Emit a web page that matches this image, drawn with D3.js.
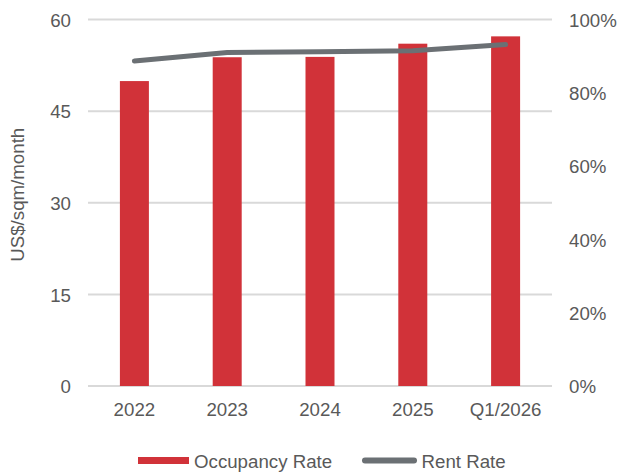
<!DOCTYPE html>
<html>
<head>
<meta charset="utf-8">
<script src="https://cdn.jsdelivr.net/npm/d3@7"></script>
<style>
  html, body { margin: 0; padding: 0; background: #ffffff; }
  svg { display: block; }
  text { font-family: "Liberation Sans", Arial, Helvetica, sans-serif; fill: #595959; }
</style>
</head>
<body>
<svg id="chart" width="618" height="473"></svg>
<script>
// Periods on the horizontal axis
const periods = ["2022", "2023", "2024", "2025", "Q1/2026"];
// Occupancy rate (%), drawn as bars against the right axis
const occupancy = [83.2, 89.7, 89.8, 93.4, 95.4];
// Rent rate (US$/sqm/month), drawn as a line against the left axis
const rent = [53.2, 54.6, 54.7, 54.9, 55.9];
// Axis ticks
const rentTicks = [0, 15, 30, 45, 60];
const occTicks = [0, 20, 40, 60, 80, 100];

const svg = d3.select("#chart");
const margin = { top: 19.5, right: 66, bottom: 87, left: 88 };
const W = 618, H = 473;
const innerW = W - margin.left - margin.right;
const innerH = H - margin.top - margin.bottom;

const g = svg.append("g").attr("transform", `translate(${margin.left},${margin.top})`);

const x = d3.scaleBand().domain(periods).range([0, innerW])
  .paddingInner(0.6875).paddingOuter(0.34375);
const yRent = d3.scaleLinear().domain([0, 60]).range([innerH, 0]);
const yOcc = d3.scaleLinear().domain([0, 100]).range([innerH, 0]);

const fontSize = "18.7px";

// Gridlines
g.append("g").selectAll("line").data(rentTicks).join("line")
  .attr("x1", 0).attr("x2", innerW)
  .attr("y1", d => yRent(d)).attr("y2", d => yRent(d))
  .attr("stroke", "#d9d9d9").attr("stroke-width", 2);

// Left axis
const leftAxis = g.append("g").call(d3.axisLeft(yRent).tickValues(rentTicks).tickSize(0).tickPadding(17));
leftAxis.select(".domain").remove();
leftAxis.selectAll("text").style("font-size", fontSize).attr("fill", "#595959").attr("dy", "0.36em");

// Right axis
const rightAxis = g.append("g").attr("transform", `translate(${innerW},0)`)
  .call(d3.axisRight(yOcc).tickValues(occTicks).tickSize(0).tickPadding(17).tickFormat(d => d + "%"));
rightAxis.select(".domain").remove();
rightAxis.selectAll("text").style("font-size", fontSize).attr("fill", "#595959").attr("dy", "0.36em");

// Bottom axis
const bottomAxis = g.append("g").attr("transform", `translate(0,${innerH})`)
  .call(d3.axisBottom(x).tickSize(0).tickPadding(17));
bottomAxis.select(".domain").remove();
bottomAxis.selectAll("text").style("font-size", fontSize).attr("fill", "#595959");

// Bars: occupancy rate
g.append("g").selectAll("rect").data(periods).join("rect")
  .attr("x", d => x(d))
  .attr("width", x.bandwidth())
  .attr("y", (d, i) => yOcc(occupancy[i]))
  .attr("height", (d, i) => innerH - yOcc(occupancy[i]))
  .attr("fill", "#d13239");

// Line: rent rate
const line = d3.line()
  .x((d, i) => x(periods[i]) + x.bandwidth() / 2)
  .y(d => yRent(d));
g.append("path").datum(rent)
  .attr("d", line)
  .attr("fill", "none")
  .attr("stroke", "#6b7074")
  .attr("stroke-width", 5)
  .attr("stroke-linecap", "round")
  .attr("stroke-linejoin", "round");

// Y-axis title
svg.append("text")
  .attr("transform", `translate(24,${margin.top + innerH / 2 - 8}) rotate(-90)`)
  .attr("text-anchor", "middle")
  .style("font-size", fontSize)
  .text("US$/sqm/month");

// Legend
const legend = svg.append("g");
legend.append("rect").attr("x", 138).attr("y", 457).attr("width", 51).attr("height", 7).attr("fill", "#d13239");
legend.append("text").attr("x", 194).attr("y", 468).style("font-size", fontSize).text("Occupancy Rate");
legend.append("line").attr("x1", 365).attr("x2", 414).attr("y1", 460.5).attr("y2", 460.5)
  .attr("stroke", "#6b7074").attr("stroke-width", 6).attr("stroke-linecap", "round");
legend.append("text").attr("x", 421.5).attr("y", 468).style("font-size", fontSize).text("Rent Rate");
</script>
</body>
</html>
